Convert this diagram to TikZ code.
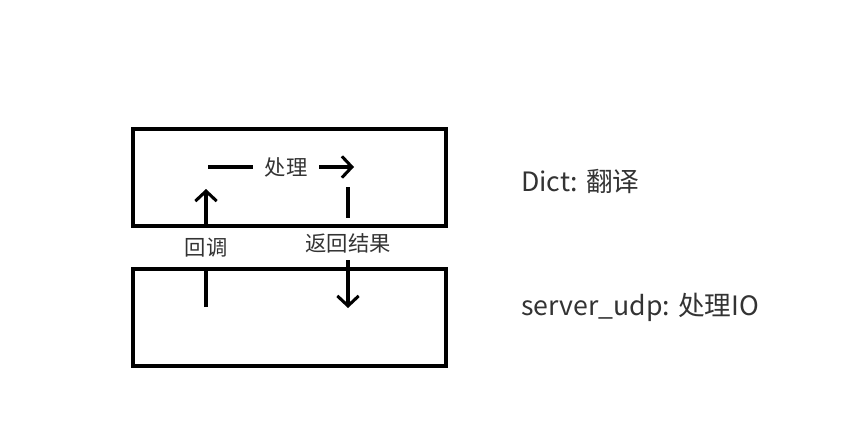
\documentclass[tikz,border=0pt]{standalone}
\usepackage{fontspec}
\setmainfont{Noto Sans CJK SC}
\usetikzlibrary{arrows.meta}
\definecolor{txtgray}{RGB}{51,51,51}

\begin{document}
\begin{tikzpicture}[x=0.75pt,y=-0.75pt,
        layer/.style={draw,line width=2.6pt,minimum width=313*0.75pt,minimum height=97*0.75pt,inner sep=0pt},
        flow/.style={line width=2.3pt},
        tip/.style={-{Straight Barb[length=7.5pt,width=16pt,line width=2.3pt]}},
        small/.style={text=txtgray,font=\fontsize{16}{18}\selectfont,inner sep=0pt},
        big/.style={text=txtgray,font=\fontsize{20}{24}\selectfont,anchor=west,inner sep=0pt}]
        \useasboundingbox (0,0) rectangle (853,428);

        \coordinate (cb0) at (206,307);
        \coordinate (cb1) at (206,268);
        \coordinate (cb2) at (206,226);
        \coordinate (cb3) at (206,189);

        \coordinate (p0) at (208,167);
        \coordinate (p1) at (354,167);

        \coordinate (r0) at (348,187);
        \coordinate (r1) at (348,218);
        \coordinate (r2) at (348,260);
        \coordinate (r3) at (348,308);

        \node[layer] (dict) at (289.5,177.5) {};
        \node[layer] (udp) at (289.5,317.5) {};

        \node[small] (cb) at (206,248) {回调};
        \node[small,minimum width=66*0.75pt] (proc) at (286,167) {处理};
        \node[small] (ret) at (348,243) {返回结果};

        \node[big] (dictlabel) at (521,181) {Dict: 翻译};
        \node[big] (udplabel) at (521,307) {server\_udp: 处理IO};

        \draw[flow] (cb0) -- (cb1);
        \draw[flow,tip] (cb2) -- (cb3);
        \draw[flow] (p0) -- (proc.west);
        \draw[flow,tip] (proc.east) -- (p1);
        \draw[flow] (r0) -- (r1);
        \draw[flow,tip] (r2) -- (r3);
    \end{tikzpicture}
\end{document}
